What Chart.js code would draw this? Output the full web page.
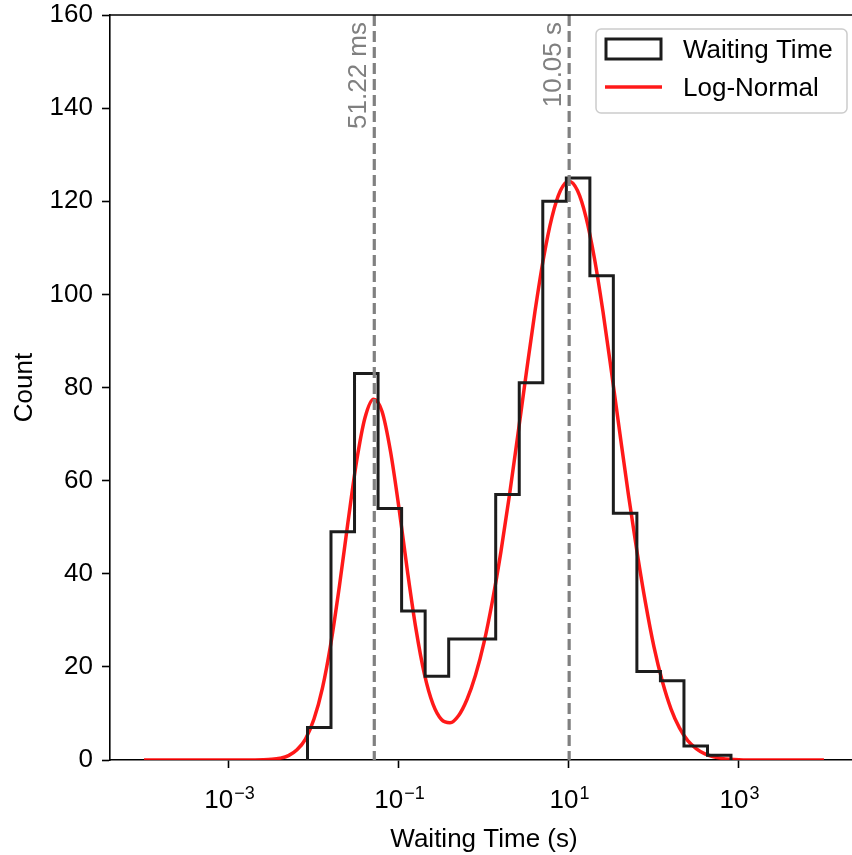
<!DOCTYPE html>
<html lang="en">
<head>
    <meta charset="UTF-8">
    <title>Waiting Time Histogram</title>
    <script src="https://cdn.jsdelivr.net/npm/chart.js"></script>
    <style>
        body {
            margin: 0;
            padding: 0;
            background: #fff;
        }
        canvas {
            display: block;
        }
    </style>
</head>
<body>
    <canvas id="waitChart" width="852" height="855"></canvas>

    <script>
        // histogram bins (seconds) and counts
        const binEdges = [0.00839, 0.01585, 0.02999, 0.05675, 0.1074, 0.2032, 0.3846, 0.7261, 1.374,
            2.600, 4.920, 9.311, 17.62, 33.27, 62.95, 119.1, 225.4, 426.6, 805.4];
        const binCounts = [7, 49, 83, 54, 32, 18, 26, 26, 57, 81, 120, 125, 104, 53, 19, 17, 3, 1];

        // fitted log-normal curve, sampled by eye (x as log10 of seconds)
        const fitLogX = [-4, -3.2, -2.8, -2.6, -2.5, -2.4, -2.3, -2.2, -2.1, -2.0, -1.9, -1.8, -1.7, -1.6,
            -1.5, -1.4, -1.3, -1.2, -1.1, -1.0, -0.9, -0.8, -0.7, -0.6, -0.5, -0.4, -0.3, -0.2, -0.1, 0,
            0.1, 0.2, 0.3, 0.4, 0.5, 0.6, 0.7, 0.8, 0.9, 1.0, 1.1, 1.2, 1.3, 1.4, 1.5, 1.6, 1.7, 1.8, 1.9,
            2.0, 2.1, 2.2, 2.3, 2.4, 2.5, 2.6, 2.7, 2.8, 3.0, 3.3, 4];
        const fitCounts = [0, 0, 0, 0.05, 0.14, 0.38, 0.94, 2.2, 4.5, 8.8, 15.5, 25.2, 37.5, 51.1,
            64.0, 73.5, 77.5, 74.9, 66.3, 54.1, 40.5, 28.1, 18.4, 12.0, 8.7, 8.0, 9.5, 13.0, 18.2, 25.2,
            34.2, 44.8, 56.9, 70.0, 83.4, 96.3, 107.7, 116.6, 122.3, 124.3, 122.3, 116.6, 107.7, 96.3, 83.4, 70.0, 56.9, 44.8, 33.8,
            24.3, 16.8, 11.0, 6.9, 4.1, 2.4, 1.3, 0.7, 0.35, 0.08, 0.01, 0];

        // peak markers
        const peakTimes = [0.05122, 10.05];
        const peakLabels = ['51.22 ms', '10.05 s'];

        // axes
        const xTickValues = [1e-3, 1e-1, 1e1, 1e3];
        const xTickExponents = ['\u22123', '\u22121', '1', '3'];
        const yMin = 0, yMax = 160, yStep = 20;

        const FONT = '"Liberation Sans", Arial, sans-serif';
        const FS = 26;

        // step outline: up from 0, across each bin, back down to 0
        const histPoints = [{ x: binEdges[0], y: 0 }];
        binCounts.forEach((c, i) => histPoints.push({ x: binEdges[i], y: c }));
        histPoints.push({ x: binEdges[binEdges.length - 1], y: 0 });

        const fitPoints = fitLogX.map((e, i) => ({ x: Math.pow(10, e), y: fitCounts[i] }));

        const overlay = {
            id: 'overlay',
            afterDatasetsDraw(chart) {
                const ctx = chart.ctx;
                const area = chart.chartArea;
                const xs = chart.scales.x;
                ctx.save();
                peakTimes.forEach((t, i) => {
                    const px = xs.getPixelForValue(t);
                    ctx.strokeStyle = 'gray';
                    ctx.lineWidth = 3.2;
                    ctx.setLineDash([11, 5]);
                    ctx.beginPath();
                    ctx.moveTo(px, area.top);
                    ctx.lineTo(px, area.bottom);
                    ctx.stroke();

                    ctx.save();
                    ctx.translate(px - 8, area.top + 7);
                    ctx.rotate(-Math.PI / 2);
                    ctx.fillStyle = 'gray';
                    ctx.font = FS + 'px ' + FONT;
                    ctx.textAlign = 'right';
                    ctx.textBaseline = 'alphabetic';
                    ctx.fillText(peakLabels[i], 0, 0);
                    ctx.restore();
                });
                ctx.restore();
            },
            afterDraw(chart) {
                const ctx = chart.ctx;
                const area = chart.chartArea;
                const xs = chart.scales.x;
                ctx.save();

                // top spine
                ctx.strokeStyle = '#000';
                ctx.lineWidth = 1.6;
                ctx.beginPath();
                ctx.moveTo(area.left, area.top);
                ctx.lineTo(chart.width, area.top);
                ctx.stroke();

                // x tick labels as 10^n
                ctx.fillStyle = '#000';
                ctx.textBaseline = 'alphabetic';
                ctx.textAlign = 'left';
                xTickValues.forEach((v, i) => {
                    const px = xs.getPixelForValue(v);
                    ctx.font = FS + 'px ' + FONT;
                    const wb = ctx.measureText('10').width;
                    ctx.font = '18px ' + FONT;
                    const ws = ctx.measureText(xTickExponents[i]).width;
                    const x0 = px - (wb + ws) / 2;
                    ctx.font = FS + 'px ' + FONT;
                    ctx.fillText('10', x0, 808);
                    ctx.font = '18px ' + FONT;
                    ctx.fillText(xTickExponents[i], x0 + wb + 1, 799);
                });

                // axis titles
                ctx.font = FS + 'px ' + FONT;
                ctx.textAlign = 'center';
                ctx.fillText('Waiting Time (s)', xs.getPixelForValue(1), 847);
                ctx.save();
                ctx.translate(32, (area.top + area.bottom) / 2);
                ctx.rotate(-Math.PI / 2);
                ctx.fillText('Count', 0, 0);
                ctx.restore();

                // legend
                const lx = 596, ly = 29, lw = 251, lh = 84;
                ctx.fillStyle = 'rgba(255,255,255,0.8)';
                ctx.strokeStyle = '#cccccc';
                ctx.lineWidth = 1.5;
                ctx.beginPath();
                ctx.roundRect(lx, ly, lw, lh, 5);
                ctx.fill();
                ctx.stroke();

                const ds = chart.data.datasets;
                ctx.strokeStyle = ds[0].borderColor;
                ctx.lineWidth = 3;
                ctx.strokeRect(606, 39, 55, 20);
                ctx.strokeStyle = ds[1].borderColor;
                ctx.lineWidth = ds[1].borderWidth;
                ctx.beginPath();
                ctx.moveTo(605, 87);
                ctx.lineTo(662, 87);
                ctx.stroke();

                ctx.fillStyle = '#000';
                ctx.textAlign = 'left';
                ctx.font = FS + 'px ' + FONT;
                ctx.fillText(ds[0].label, 683, 58);
                ctx.fillText(ds[1].label, 683, 96);

                ctx.restore();
            }
        };

        const ctx = document.getElementById('waitChart').getContext('2d');
        new Chart(ctx, {
            type: 'line',
            data: {
                datasets: [
                    {
                        label: 'Waiting Time',
                        data: histPoints,
                        stepped: 'before',
                        borderColor: '#1c1c1c',
                        borderWidth: 3,
                        pointRadius: 0,
                        fill: false
                    },
                    {
                        label: 'Log-Normal',
                        data: fitPoints,
                        borderColor: 'rgba(255, 0, 0, 0.9)',
                        borderWidth: 3.5,
                        cubicInterpolationMode: 'monotone',
                        pointRadius: 0,
                        fill: false
                    }
                ]
            },
            options: {
                responsive: false,
                animation: false,
                devicePixelRatio: 1,
                layout: { padding: { top: 15, right: 0, bottom: 0, left: 0 } },
                plugins: {
                    legend: { display: false },
                    tooltip: { enabled: false }
                },
                scales: {
                    x: {
                        type: 'logarithmic',
                        bounds: 'data',
                        min: Math.pow(10, -4.4),
                        max: Math.pow(10, 4.33),
                        afterBuildTicks: (s) => { s.ticks = xTickValues.map(v => ({ value: v })); },
                        afterFit: (s) => {
                            s.height = 95;
                            s.paddingLeft = 0;
                            s.paddingRight = 0;
                        },
                        grid: {
                            drawOnChartArea: false,
                            drawTicks: true,
                            tickLength: 8,
                            tickColor: '#000',
                            tickWidth: 1.6
                        },
                        border: { display: true, color: '#000', width: 1.6 },
                        ticks: { display: false, autoSkip: false }
                    },
                    y: {
                        min: yMin,
                        max: yMax,
                        afterFit: (s) => {
                            s.width = 110;
                            s.paddingTop = 0;
                            s.paddingBottom = 0;
                        },
                        grid: {
                            drawOnChartArea: false,
                            drawTicks: true,
                            tickLength: 8,
                            tickColor: '#000',
                            tickWidth: 1.6
                        },
                        border: { display: true, color: '#000', width: 1.6 },
                        ticks: {
                            stepSize: yStep,
                            padding: 9,
                            color: '#000',
                            font: { family: FONT, size: FS }
                        }
                    }
                }
            },
            plugins: [overlay]
        });
    </script>
</body>
</html>
